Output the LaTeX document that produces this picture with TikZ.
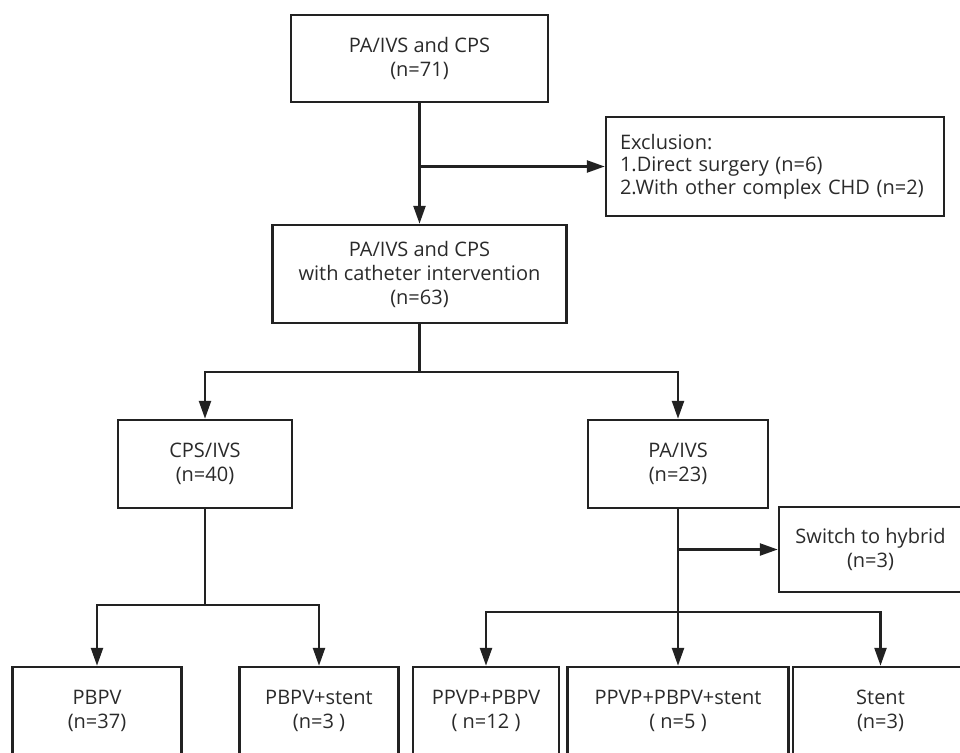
\documentclass[tikz,border=0pt]{standalone}
\usepackage{fontspec}
\setmainfont{Open Sans}
\usetikzlibrary{arrows.meta}
\definecolor{ink}{HTML}{222222}
\definecolor{txt}{HTML}{2a2a2a}
\tikzset{
  box/.style={draw=ink, line width=2.5pt, rectangle, align=center, text=txt,
    font=\fontsize{20}{24}\selectfont, inner sep=0pt},
  line/.style={draw=ink, line width=2.5pt},
  arr/.style={line, -{Triangle[length=18pt,width=12pt]}},
}
\begin{document}
\begin{tikzpicture}[x=1pt,y=-1pt]
\useasboundingbox (0,0) rectangle (960,752);
\clip (0,0) rectangle (960,752);
\node[box, minimum width=257pt, minimum height=87pt] (top) at (419.5,58.5) {PA/IVS and CPS\\(n=71)};
\node[box, minimum width=338pt, minimum height=99pt, align=left, text width=310pt,
  font=\fontsize{20}{22.5}\selectfont] (excl) at (775,166.5)
  {Exclusion:\\1.Direct surgery (n=6)\\2.With other complex CHD (n=2)};
\node[box, minimum width=294pt, minimum height=98pt] (mid) at (419.5,274) {PA/IVS and CPS\\with catheter intervention\\(n=63)};
\node[box, minimum width=174pt, minimum height=88pt] (cps) at (205,464) {CPS/IVS\\(n=40)};
\node[box, minimum width=180pt, minimum height=88pt] (pa) at (678,464) {PA/IVS\\(n=23)};
\node[box, minimum width=183pt, minimum height=85pt] (sw) at (870.5,549.5) {Switch to hybrid\\(n=3)};
\node[box, minimum width=169pt, minimum height=88pt] (pbpv) at (97,711) {PBPV\\(n=37)};
\node[box, minimum width=159pt, minimum height=88pt] (pbst) at (319,711) {PBPV+stent\\(n=3 )};
\node[box, minimum width=146pt, minimum height=88pt] (pp) at (486,711) {PPVP+PBPV\\( n=12 )};
\node[box, minimum width=221pt, minimum height=88pt] (ppst) at (678,711) {PPVP+PBPV+stent\\( n=5 )};
\node[box, minimum width=175pt, minimum height=88pt] (st) at (880.5,711) {Stent\\(n=3)};

\draw[arr] (top.south) -- (mid.north);
\draw[arr] (top.south |- excl.west) -- (excl.west);
\coordinate (j1) at (419.5,372);
\draw[line] (mid.south) -- (j1);
\draw[arr] (j1) -| (cps.north);
\draw[arr] (j1) -| (pa.north);
\coordinate (j2) at (205,605);
\draw[line] (cps.south) -- (j2);
\draw[arr] (j2) -| (pbpv.north);
\draw[arr] (j2) -| (pbst.north);
\coordinate (j3) at (678,612);
\draw[arr] (pa.south) -- (ppst.north);
\draw[arr] (pa.south |- sw.west) -- (sw.west);
\draw[arr] (j3) -| (pp.north);
\draw[arr] (j3) -| (st.north);
\end{tikzpicture}
\end{document}
